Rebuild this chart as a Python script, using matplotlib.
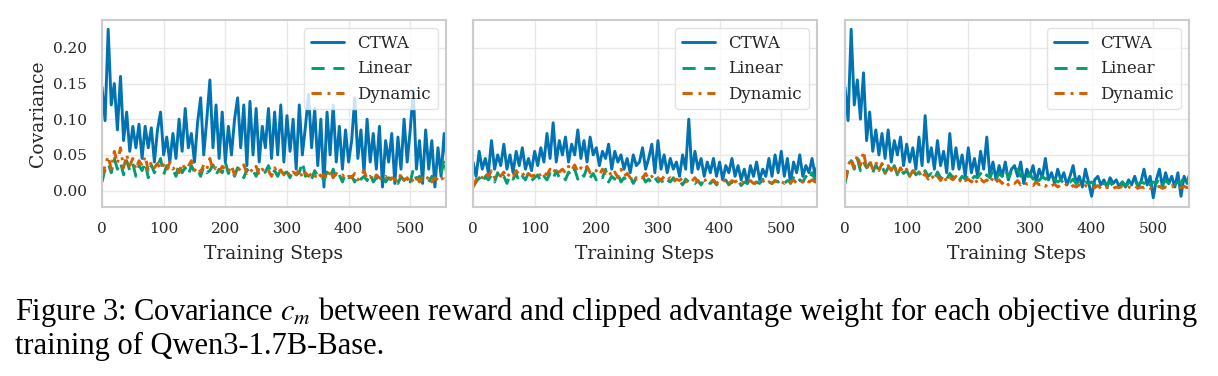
import numpy as np
import matplotlib
matplotlib.use('agg')
import matplotlib.pyplot as plt
import seaborn as sns

# covariance readings, one value every 5 training steps
step_size = 5
series_names = ['CTWA', 'Linear', 'Dynamic']

p1_ctwa = [0.145, 0.098, 0.226, 0.120, 0.150, 0.085, 0.160, 0.070, 0.110, 0.055,
           0.090, 0.060, 0.093, 0.045, 0.090, 0.060, 0.088, 0.040, 0.085, 0.110,
           0.050, 0.075, 0.040, 0.080, 0.045, 0.100, 0.055, 0.115, 0.060, 0.080,
           0.040, 0.095, 0.130, 0.050, 0.100, 0.155, 0.060, 0.120, 0.045, 0.110,
           0.040, 0.090, 0.050, 0.100, 0.130, 0.060, 0.120, 0.035, 0.125, 0.050,
           0.115, 0.040, 0.090, 0.060, 0.115, 0.045, 0.110, 0.050, 0.120, 0.040,
           0.105, 0.055, 0.100, 0.030, 0.120, 0.050, 0.090, 0.135, 0.060, 0.115,
           0.035, 0.100, 0.005, 0.110, 0.050, 0.120, 0.040, 0.090, 0.030, 0.085,
           0.040, 0.070, 0.130, 0.045, 0.085, 0.025, 0.100, 0.040, 0.080, 0.030,
           0.090, 0.005, 0.070, 0.040, 0.080, 0.010, 0.075, 0.030, 0.100, 0.040,
           0.085, 0.140, 0.030, 0.070, 0.010, 0.085, 0.030, 0.070, 0.005, 0.060,
           0.020, 0.080, 0.035]
p1_linear = [0.012, 0.030, 0.038, 0.025, 0.045, 0.030, 0.040, 0.022, 0.042, 0.028,
             0.038, 0.020, 0.035, 0.028, 0.040, 0.018, 0.036, 0.025, 0.033, 0.045,
             0.022, 0.035, 0.028, 0.030, 0.020, 0.038, 0.025, 0.032, 0.022, 0.035,
             0.026, 0.030, 0.020, 0.034, 0.025, 0.028, 0.036, 0.022, 0.030, 0.025,
             0.040, 0.024, 0.030, 0.020, 0.032, 0.026, 0.018, 0.030, 0.024, 0.028,
             0.020, 0.032, 0.024, 0.026, 0.035, 0.022, 0.028, 0.020, 0.030, 0.024,
             0.026, 0.018, 0.030, 0.022, 0.025, 0.040, 0.020, 0.024, 0.016, 0.028,
             0.020, 0.022, 0.014, 0.026, 0.018, 0.030, 0.016, 0.022, 0.012, 0.024,
             0.018, 0.020, 0.012, 0.022, 0.016, 0.020, 0.014, 0.024, 0.012, 0.018,
             0.015, 0.020, 0.012, 0.018, 0.014, 0.016, 0.010, 0.020, 0.014, 0.018,
             0.012, 0.030, 0.016, 0.020, 0.014, 0.018, 0.012, 0.020, 0.016, 0.014,
             0.022, 0.045, 0.018]
p1_dynamic = [0.020, 0.035, 0.048, 0.030, 0.055, 0.038, 0.060, 0.032, 0.050, 0.035,
              0.045, 0.030, 0.042, 0.035, 0.048, 0.028, 0.040, 0.032, 0.038, 0.030,
              0.036, 0.028, 0.040, 0.030, 0.035, 0.025, 0.038, 0.030, 0.034, 0.042,
              0.028, 0.033, 0.026, 0.036, 0.030, 0.045, 0.028, 0.032, 0.025, 0.034,
              0.030, 0.026, 0.035, 0.022, 0.032, 0.028, 0.036, 0.024, 0.030, 0.026,
              0.034, 0.022, 0.030, 0.025, 0.028, 0.020, 0.032, 0.024, 0.029, 0.022,
              0.028, 0.020, 0.026, 0.022, 0.030, 0.018, 0.025, 0.020, 0.024, 0.018,
              0.026, 0.020, 0.022, 0.016, 0.028, 0.018, 0.024, 0.020, 0.022, 0.016,
              0.020, 0.018, 0.024, 0.015, 0.020, 0.028, 0.016, 0.020, 0.014, 0.022,
              0.018, 0.015, 0.020, 0.012, 0.018, 0.016, 0.012, 0.024, 0.014, 0.018,
              0.010, 0.016, 0.020, 0.012, 0.018, 0.014, 0.020, 0.012, 0.018, 0.015,
              0.020, 0.012, 0.022]

p2_ctwa = [0.040, 0.020, 0.055, 0.030, 0.045, 0.025, 0.070, 0.030, 0.050, 0.035,
           0.065, 0.030, 0.050, 0.025, 0.055, 0.035, 0.060, 0.030, 0.045, 0.028,
           0.055, 0.035, 0.060, 0.040, 0.080, 0.045, 0.095, 0.040, 0.070, 0.050,
           0.075, 0.040, 0.065, 0.050, 0.085, 0.045, 0.070, 0.040, 0.075, 0.050,
           0.060, 0.035, 0.055, 0.045, 0.065, 0.030, 0.055, 0.040, 0.050, 0.030,
           0.045, 0.025, 0.050, 0.035, 0.040, 0.060, 0.030, 0.045, 0.065, 0.025,
           0.070, 0.030, 0.050, 0.025, 0.045, 0.030, 0.040, 0.020, 0.050, 0.030,
           0.100, 0.025, 0.055, 0.030, 0.045, 0.020, 0.040, 0.025, 0.045, 0.020,
           0.040, 0.015, 0.035, 0.025, 0.045, 0.020, 0.035, 0.015, 0.030, 0.010,
           0.035, 0.020, 0.040, 0.015, 0.030, 0.020, 0.045, 0.020, 0.050, 0.025,
           0.055, 0.020, 0.045, 0.010, 0.040, 0.025, 0.050, 0.020, 0.035, 0.025,
           0.045, 0.020, 0.040]
p2_linear = [0.005, 0.012, 0.018, 0.010, 0.020, 0.015, 0.022, 0.012, 0.025, 0.015,
             0.020, 0.010, 0.022, 0.016, 0.024, 0.012, 0.020, 0.015, 0.025, 0.014,
             0.018, 0.022, 0.012, 0.020, 0.015, 0.024, 0.016, 0.028, 0.018, 0.022,
             0.015, 0.026, 0.020, 0.030, 0.016, 0.025, 0.020, 0.032, 0.018, 0.024,
             0.015, 0.022, 0.018, 0.030, 0.012, 0.020, 0.016, 0.024, 0.012, 0.018,
             0.014, 0.020, 0.010, 0.018, 0.015, 0.020, 0.012, 0.016, 0.010, 0.018,
             0.012, 0.016, 0.008, 0.015, 0.012, 0.018, 0.010, 0.014, 0.008, 0.016,
             0.012, 0.015, 0.010, 0.014, 0.008, 0.016, 0.012, 0.010, 0.014, 0.008,
             0.012, 0.010, 0.015, 0.008, 0.012, 0.010, 0.014, 0.007, 0.012, 0.010,
             0.014, 0.008, 0.012, 0.010, 0.016, 0.008, 0.012, 0.010, 0.014, 0.012,
             0.016, 0.010, 0.014, 0.012, 0.018, 0.010, 0.015, 0.012, 0.020, 0.014,
             0.025, 0.015, 0.022]
p2_dynamic = [0.005, 0.015, 0.022, 0.018, 0.025, 0.020, 0.028, 0.018, 0.024, 0.020,
              0.026, 0.018, 0.025, 0.020, 0.028, 0.022, 0.025, 0.018, 0.024, 0.020,
              0.022, 0.026, 0.020, 0.025, 0.022, 0.030, 0.024, 0.032, 0.026, 0.030,
              0.025, 0.034, 0.028, 0.036, 0.026, 0.032, 0.028, 0.034, 0.025, 0.030,
              0.028, 0.022, 0.030, 0.024, 0.028, 0.020, 0.026, 0.018, 0.030, 0.020,
              0.024, 0.018, 0.022, 0.016, 0.020, 0.018, 0.024, 0.016, 0.020, 0.015,
              0.018, 0.014, 0.020, 0.015, 0.018, 0.012, 0.016, 0.014, 0.018, 0.012,
              0.016, 0.013, 0.018, 0.012, 0.015, 0.014, 0.016, 0.012, 0.015, 0.010,
              0.014, 0.012, 0.016, 0.010, 0.014, 0.012, 0.015, 0.010, 0.013, 0.011,
              0.014, 0.010, 0.012, 0.011, 0.014, 0.009, 0.012, 0.010, 0.014, 0.011,
              0.013, 0.010, 0.014, 0.011, 0.015, 0.010, 0.013, 0.012, 0.016, 0.012,
              0.015, 0.012, 0.014]

p3_ctwa = [0.145, 0.098, 0.226, 0.120, 0.155, 0.100, 0.165, 0.070, 0.110, 0.055,
           0.085, 0.050, 0.080, 0.045, 0.085, 0.040, 0.070, 0.050, 0.075, 0.035,
           0.065, 0.040, 0.060, 0.030, 0.075, 0.035, 0.105, 0.040, 0.060, 0.030,
           0.070, 0.035, 0.055, 0.025, 0.080, 0.030, 0.060, 0.030, 0.050, 0.020,
           0.060, 0.025, 0.045, 0.020, 0.055, 0.030, 0.075, 0.020, 0.040, 0.015,
           0.035, 0.020, 0.040, 0.015, 0.030, 0.035, 0.020, 0.040, 0.010, 0.030,
           0.020, 0.035, 0.012, 0.030, 0.018, 0.045, 0.015, 0.025, 0.010, 0.030,
           0.015, 0.025, 0.008, 0.020, 0.035, 0.010, 0.020, 0.005, 0.030, 0.012,
           -0.008, 0.015, 0.020, 0.008, 0.015, 0.005, 0.018, 0.010, 0.015, 0.005,
           0.012, 0.005, 0.015, 0.008, 0.020, 0.005, 0.012, 0.030, 0.008, 0.020,
           -0.010, 0.015, 0.030, 0.005, 0.025, 0.010, 0.020, 0.005, 0.025, -0.008,
           0.020, 0.010, 0.025]
p3_linear = [0.010, 0.030, 0.042, 0.030, 0.045, 0.028, 0.040, 0.032, 0.038, 0.025,
             0.036, 0.028, 0.034, 0.024, 0.032, 0.026, 0.035, 0.022, 0.030, 0.024,
             0.028, 0.020, 0.030, 0.022, 0.026, 0.018, 0.028, 0.020, 0.024, 0.016,
             0.026, 0.018, 0.022, 0.016, 0.024, 0.018, 0.022, 0.014, 0.020, 0.016,
             0.022, 0.015, 0.020, 0.018, 0.024, 0.016, 0.022, 0.018, 0.028, 0.016,
             0.024, 0.020, 0.030, 0.018, 0.026, 0.022, 0.030, 0.020, 0.026, 0.018,
             0.024, 0.016, 0.022, 0.014, 0.020, 0.016, 0.018, 0.012, 0.016, 0.012,
             0.015, 0.010, 0.014, 0.012, 0.016, 0.010, 0.013, 0.008, 0.012, 0.010,
             0.012, 0.008, 0.011, 0.007, 0.010, 0.008, 0.012, 0.006, 0.010, 0.008,
             0.012, 0.007, 0.010, 0.009, 0.014, 0.008, 0.012, 0.010, 0.016, 0.008,
             0.012, 0.010, 0.018, 0.008, 0.014, 0.010, 0.016, 0.008, 0.012, 0.010,
             0.020, 0.012, 0.025]
p3_dynamic = [0.015, 0.035, 0.045, 0.032, 0.050, 0.035, 0.055, 0.030, 0.042, 0.030,
              0.040, 0.028, 0.038, 0.025, 0.035, 0.028, 0.036, 0.022, 0.032, 0.025,
              0.030, 0.020, 0.028, 0.022, 0.026, 0.018, 0.024, 0.016, 0.022, 0.015,
              0.020, 0.014, 0.022, 0.012, 0.018, 0.015, 0.020, 0.012, 0.018, 0.014,
              0.016, 0.012, 0.018, 0.010, 0.016, 0.012, 0.015, 0.010, 0.018, 0.012,
              0.015, 0.010, 0.014, 0.008, 0.012, 0.010, 0.014, 0.008, 0.012, 0.009,
              0.010, 0.007, 0.012, 0.008, 0.010, 0.006, 0.010, 0.007, 0.009, 0.005,
              0.008, 0.006, 0.009, 0.004, 0.007, 0.005, 0.008, 0.004, 0.007, 0.005,
              0.006, 0.004, 0.007, 0.003, 0.006, 0.004, 0.006, 0.003, 0.005, 0.004,
              0.006, 0.003, 0.005, 0.004, 0.007, 0.003, 0.005, 0.004, 0.006, 0.003,
              0.005, 0.004, 0.006, 0.003, 0.005, 0.004, 0.007, 0.003, 0.005, 0.004,
              0.006, 0.004, 0.008]

panels = [(p1_ctwa, p1_linear, p1_dynamic),
          (p2_ctwa, p2_linear, p2_dynamic),
          (p3_ctwa, p3_linear, p3_dynamic)]

colors = ['#0173B2', '#029E73', '#D55E00']
dash_styles = [None, (4.5, 3.0), (3.5, 2.0, 1.0, 2.0)]
x_ticks = [0, 100, 200, 300, 400, 500]
y_ticks = [0.00, 0.05, 0.10, 0.15, 0.20]

sns.set_style('whitegrid')
plt.rcParams['font.family'] = ['DejaVu Serif']
plt.rcParams['mathtext.fontset'] = 'stix'

fig = plt.figure(figsize=(12.18, 3.76), dpi=100)
lefts = [102 / 1218, 473 / 1218, 845 / 1218]

for i, (left, series) in enumerate(zip(lefts, panels)):
    ax = fig.add_axes([left, 0.4495, 344 / 1218, 0.4973])
    for vals, name, c, d in zip(series, series_names, colors, dash_styles):
        steps = np.arange(len(vals)) * step_size
        line, = ax.plot(steps, vals, color=c, linewidth=2.1, label=name)
        if d is not None:
            line.set_dashes(d)
    ax.set_xlim(0, 558)
    ax.set_ylim(-0.023, 0.239)
    ax.set_xticks(x_ticks)
    ax.set_yticks(y_ticks)
    ax.grid(True, color='#e8e8e8', linewidth=1)
    for sp in ax.spines.values():
        sp.set_color('#cccccc')
        sp.set_linewidth(1.5)
    ax.tick_params(labelsize=11, colors='#262626', length=0, pad=11)
    ax.set_xlabel('Training Steps', fontsize=13.5, color='#262626', labelpad=6)
    if i == 0:
        ax.set_ylabel('Covariance', fontsize=13.5, color='#262626', labelpad=4)
        ax.set_yticklabels(['%.2f' % v for v in y_ticks])
    else:
        ax.set_yticklabels([])
    leg = ax.legend(loc='upper right', fontsize=12, frameon=True,
                    facecolor='white', edgecolor='#dddddd', framealpha=0.8)
    for t in leg.get_texts():
        t.set_color('#262626')

caption = ['Figure 3: Covariance $c_m$ between reward and clipped advantage weight for each objective during',
           'training of Qwen3-1.7B-Base.']
fig.text(15 / 1218, 1 - 312 / 376, caption[0], fontsize=22, family=['Liberation Serif'],
         va='center', ha='left', color='black')
fig.text(15 / 1218, 1 - 346 / 376, caption[1], fontsize=22, family=['Liberation Serif'],
         va='center', ha='left', color='black')

plt.savefig('out.png', dpi=100)
